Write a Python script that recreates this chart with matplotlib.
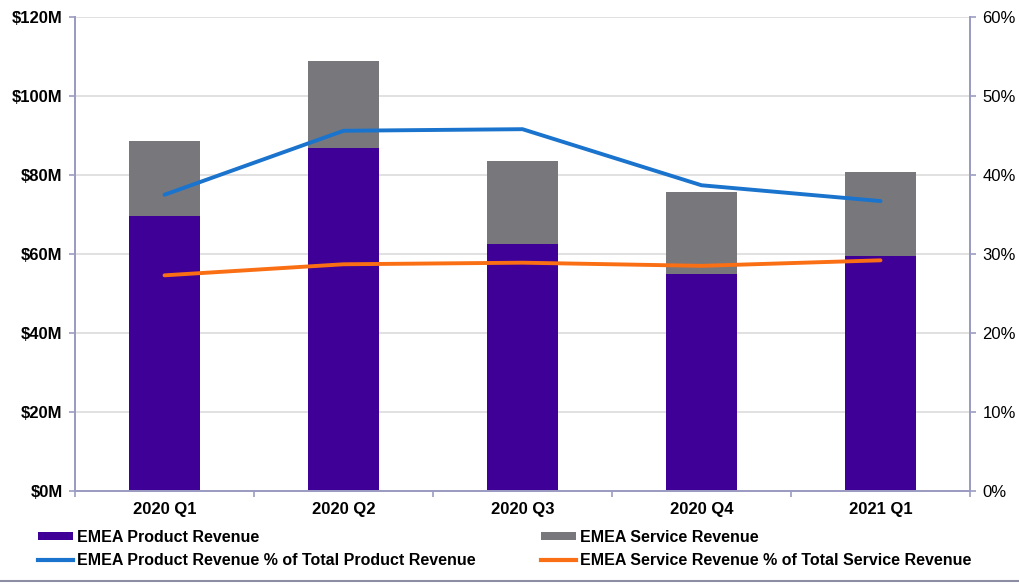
import matplotlib
matplotlib.use("Agg")
import matplotlib.pyplot as plt
import matplotlib.ticker as mticker
from matplotlib.lines import Line2D
from matplotlib.patches import Patch
import numpy as np

plt.rcParams["font.family"] = ["Liberation Sans", "DejaVu Sans"]

quarters = ["2020 Q1", "2020 Q2", "2020 Q3", "2020 Q4", "2021 Q1"]
product_rev = [69.5, 86.8, 62.5, 54.9, 59.5]      # $M
service_rev = [19.0, 22.1, 21.0, 20.9, 21.3]      # $M, stacked on product
product_share = [37.5, 45.6, 45.8, 38.7, 36.7]    # % of total product revenue
service_share = [27.3, 28.7, 28.9, 28.5, 29.2]    # % of total service revenue

PURPLE = "#3e0096"
GRAY = "#78787c"
BLUE = "#1a73cc"
ORANGE = "#fa6e14"
SPINE = "#9c9cc2"

fig = plt.figure(figsize=(10.19, 5.84), dpi=100)
ax = fig.add_axes([75 / 1019, 1 - 491 / 584, 895 / 1019, 474 / 584])
x = np.arange(len(quarters))

ax.bar(x, product_rev, width=0.4, color=PURPLE, zorder=2)
ax.bar(x, service_rev, width=0.4, bottom=product_rev, color=GRAY, zorder=2)

ax.set_xlim(-0.5, len(quarters) - 0.5)
ax.set_ylim(0, 120)
ax.yaxis.set_major_locator(mticker.MultipleLocator(20))
ax.yaxis.set_major_formatter(mticker.FuncFormatter(lambda v, _: f"${v:.0f}M"))
ax.grid(axis="y", color="#dcdcdc", linewidth=1.2, zorder=0)
ax.set_axisbelow(True)

ax.set_xticks(x)
ax.set_xticklabels(quarters, fontsize=12, fontweight="bold")
ax.set_xticks(np.arange(-0.5, len(quarters)), minor=True)
ax.tick_params(axis="x", which="major", length=0, pad=8)
ax.tick_params(axis="x", which="minor", length=4, color=SPINE, width=1.2)
ax.tick_params(axis="y", length=4, color=SPINE, width=1.2, pad=5)
for lbl in ax.get_yticklabels():
    lbl.set_fontsize(12)
    lbl.set_fontweight("bold")

ax.spines["top"].set_visible(False)
for side in ["left", "bottom", "right"]:
    ax.spines[side].set_color(SPINE)
    ax.spines[side].set_linewidth(1.3)

ax2 = ax.twinx()
ax2.plot(x, product_share, color=BLUE, linewidth=2.8, solid_capstyle="round")
ax2.plot(x, service_share, color=ORANGE, linewidth=2.8, solid_capstyle="round")
ax2.set_ylim(0, 60)
ax2.yaxis.set_major_locator(mticker.MultipleLocator(10))
ax2.yaxis.set_major_formatter(mticker.FuncFormatter(lambda v, _: f"{v:.0f}%"))
ax2.tick_params(axis="y", length=4, color=SPINE, width=1.2, pad=5, labelsize=12)
ax2.spines["top"].set_visible(False)
for side in ["left", "bottom", "right"]:
    ax2.spines[side].set_color(SPINE)
    ax2.spines[side].set_linewidth(1.3)

handles = [
    Patch(facecolor=PURPLE, label="EMEA Product Revenue"),
    Line2D([], [], color=BLUE, linewidth=3, label="EMEA Product Revenue % of Total Product Revenue"),
    Patch(facecolor=GRAY, label="EMEA Service Revenue"),
    Line2D([], [], color=ORANGE, linewidth=3, label="EMEA Service Revenue % of Total Service Revenue"),
]
leg = fig.legend(handles=handles, ncol=2, loc="upper left",
                 bbox_to_anchor=(30 / 1019, 1 - 522 / 584), frameon=False,
                 prop={"size": 11.5, "weight": "bold"},
                 handlelength=2.2, handleheight=0.35, handletextpad=0.25,
                 columnspacing=4.1, labelspacing=0.5, borderpad=0)

# thin rule along the bottom edge
fig.add_artist(Line2D([0, 1], [1 - 580.5 / 584] * 2, transform=fig.transFigure,
                      color="#8c8ca4", linewidth=1.5))

fig.savefig("out.png", dpi=100)
